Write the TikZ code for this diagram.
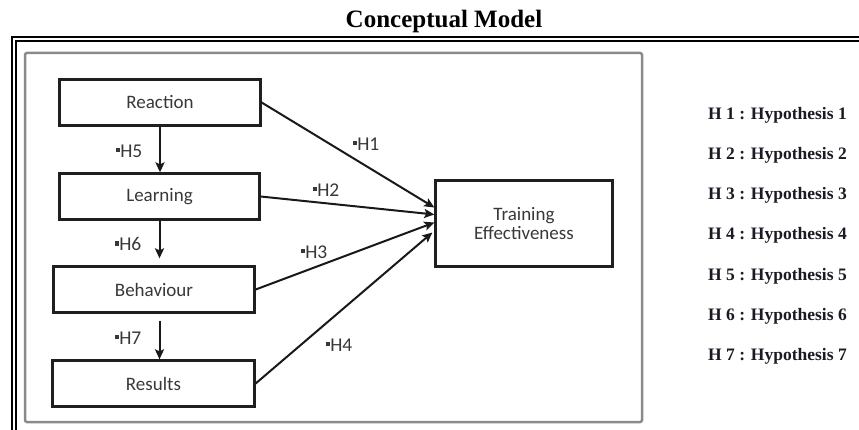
\documentclass[tikz,border=0pt]{standalone}
\usepackage{fontspec}
\setmainfont{Liberation Serif}
\newfontfamily\boxfont{Carlito}
\usetikzlibrary{arrows.meta,calc}
\definecolor{boxtext}{HTML}{383838}
\definecolor{framegray}{HTML}{8A8A8A}
\definecolor{legtext}{HTML}{1A1A24}
\tikzset{
  conc/.style={draw=black!88, line width=2.3pt, rectangle, minimum height=46pt,
    text=boxtext, font=\boxfont\fontsize{19}{21}\selectfont, align=center, inner sep=0pt},
  link/.style={draw=black!90, line width=2pt, -{Stealth[length=10pt,width=9pt,inset=2pt]}},
  hlab/.style={text=boxtext, font=\boxfont\fontsize{19.5}{21}\selectfont, inner sep=0pt},
  legend/.style={anchor=base west, font=\bfseries\fontsize{17.5}{20}\selectfont, text=legtext, inner sep=0pt},
}
\newcommand{\hb}{\rule[0.25em]{4.2pt}{4.2pt}\hspace{0.5pt}}
\begin{document}
\begin{tikzpicture}[x=1pt,y=-1pt]
\useasboundingbox (0,0) rectangle (859,430);
% title
\node[font=\bfseries\fontsize{25}{28}\selectfont, anchor=base, inner sep=0pt] (title) at (444,28) {Conceptual Model};
% outer double frame
\draw[line width=2pt] (12,431) -- (12,37) -- (860,37);
\draw[line width=1.5pt] (15.8,431) -- (15.8,40.8) -- (860,40.8);
% grey panel
\draw[framegray, line width=2.5pt, rounded corners=2pt] (25,53) rectangle (642,422);
% boxes
\node[conc, minimum width=201pt] (rea) at (160,102.5) {Reaction};
\node[conc, minimum width=200pt] (lea) at (159.5,196.5) {Learning};
\node[conc, minimum width=201pt] (beh) at (154,289.5) {Behaviour};
\node[conc, minimum width=202pt] (res) at (153.5,383.5) {Results};
\node[conc, minimum width=177pt, minimum height=86pt] (te) at (524,223.5) {Training\\[-2pt]Effectiveness};
% arrow end points on the target
\coordinate (t1) at ($(te.west)+(0,-16)$);
\coordinate (t2) at ($(te.west)+(0,-9)$);
\coordinate (t3) at ($(te.west)+(0,-1)$);
\coordinate (t4) at ($(te.west)+(-2,9)$);
% connectors
\draw[link] (rea.east) -- (t1);
\draw[link] (lea.east) -- (t2);
\draw[link] (beh.east) -- (t3);
\draw[link] (res.east) -- (t4);
\draw[link] (rea.south) -- (rea.south |- lea.north);
\draw[link, shorten >=7pt] (lea.south) -- (lea.south |- beh.north);
\draw[link, shorten <=7pt] (lea.south |- beh.south) -- (lea.south |- res.north);
% labels
\node[hlab] (h1) at (366,144) {\hb H1};
\node[hlab] (h2) at (326,190) {\hb H2};
\node[hlab] (h3) at (314,252) {\hb H3};
\node[hlab] (h4) at (339,345) {\hb H4};
\node[hlab] (h5) at (129,151) {\hb H5};
\node[hlab] (h6) at (128,244) {\hb H6};
\node[hlab] (h7) at (128,338) {\hb H7};
% legend
\node[legend] (l1) at (708,120) {H 1 : Hypothesis 1};
\node[legend] (l2) at (708,160) {H 2 : Hypothesis 2};
\node[legend] (l3) at (708,200) {H 3 : Hypothesis 3};
\node[legend] (l4) at (708,240) {H 4 : Hypothesis 4};
\node[legend] (l5) at (708,280) {H 5 : Hypothesis 5};
\node[legend] (l6) at (708,320) {H 6 : Hypothesis 6};
\node[legend] (l7) at (708,360) {H 7 : Hypothesis 7};
\end{tikzpicture}
\end{document}
